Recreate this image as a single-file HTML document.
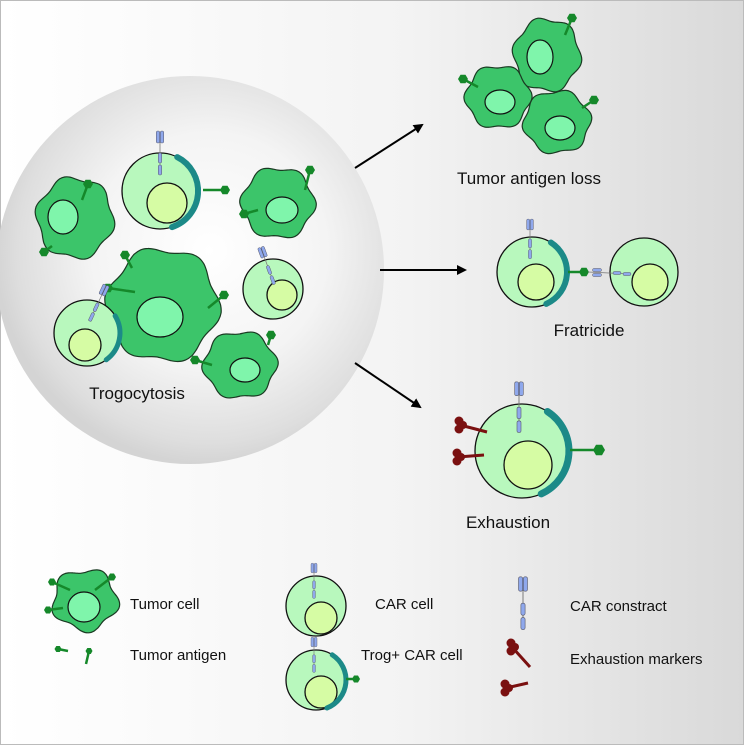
<!DOCTYPE html>
<html><head><meta charset="utf-8"><style>
html,body{margin:0;padding:0;}
body{width:744px;height:745px;overflow:hidden;font-family:"Liberation Sans",Arial,sans-serif;}
svg text{font-family:"Liberation Sans",Arial,sans-serif;fill:#111;}
</style></head><body>
<svg id="s" width="744" height="745" viewBox="0 0 744 745" xmlns="http://www.w3.org/2000/svg">
<defs>
<linearGradient id="bg" x1="0" y1="0" x2="1" y2="0">
<stop offset="0" stop-color="#ffffff"/><stop offset="0.55" stop-color="#f3f3f3"/><stop offset="1" stop-color="#d9d9d9"/>
</linearGradient>
<radialGradient id="big" cx="0.55" cy="0.45" r="0.55">
<stop offset="0" stop-color="#ffffff"/><stop offset="0.55" stop-color="#f4f4f4"/><stop offset="0.9" stop-color="#dedede"/><stop offset="1" stop-color="#d4d4d4"/>
</radialGradient>
<marker id="ar" markerWidth="10" markerHeight="10" refX="8" refY="5" orient="auto" markerUnits="userSpaceOnUse">
<path d="M0,0 L10,5 L0,10 z" fill="#000"/></marker>
</defs>
<rect x="0.5" y="0.5" width="743" height="744" fill="url(#bg)" stroke="#bbb"/>
<circle cx="190" cy="270" r="194" fill="url(#big)"/>
<g id="g"></g>
<line x1="355" y1="168" x2="422" y2="125" stroke="#000" stroke-width="2" marker-end="url(#ar)"/>
<line x1="380" y1="270" x2="465" y2="270" stroke="#000" stroke-width="2" marker-end="url(#ar)"/>
<line x1="355" y1="363" x2="420" y2="407" stroke="#000" stroke-width="2" marker-end="url(#ar)"/>
<text x="137" y="399" font-size="17" text-anchor="middle">Trogocytosis</text>
<text x="529" y="184" font-size="17" text-anchor="middle">Tumor antigen loss</text>
<text x="589" y="336" font-size="17" text-anchor="middle">Fratricide</text>
<text x="508" y="528" font-size="17" text-anchor="middle">Exhaustion</text>
<text x="130" y="609" font-size="15">Tumor cell</text>
<text x="375" y="609" font-size="15">CAR cell</text>
<text x="570" y="611" font-size="15">CAR constract</text>
<text x="130" y="660" font-size="15">Tumor antigen</text>
<text x="361" y="660" font-size="15">Trog+ CAR cell</text>
<text x="570" y="664" font-size="15">Exhaustion markers</text>
</svg>
<script>
var G=document.getElementById('g'),h='';
var TUM='#3cc56a',TN='#7ff5ab',CAR='#b8f8bd',CN='#d6fca4',TEAL='#1c8a88',AG='#15882a',RC='#8fa8ec',EX='#7a1010';
function blob(cx,cy,rx,ry,k,ph,amp){var n=48,p=[];for(var i=0;i<n;i++){var t=i/n*2*Math.PI;var r=1+amp*Math.sin(k*t+ph);p.push([cx+rx*r*Math.cos(t),cy+ry*r*Math.sin(t)]);}
var d='M'+p[0][0].toFixed(1)+','+p[0][1].toFixed(1);for(var i=0;i<n;i++){var p0=p[(i-1+n)%n],p1=p[i],p2=p[(i+1)%n],p3=p[(i+2)%n];
d+=' C'+(p1[0]+(p2[0]-p0[0])/6).toFixed(1)+','+(p1[1]+(p2[1]-p0[1])/6).toFixed(1)+' '+(p2[0]-(p3[0]-p1[0])/6).toFixed(1)+','+(p2[1]-(p3[1]-p1[1])/6).toFixed(1)+' '+p2[0].toFixed(1)+','+p2[1].toFixed(1);}
return '<path d="'+d+'Z" fill="'+TUM+'" stroke="#1a3a22" stroke-width="1.2"/>';}
function hex(x,y,r){var s='';for(var i=0;i<6;i++){var a=i*Math.PI/3;s+=(x+r*Math.cos(a)).toFixed(1)+','+(y+r*Math.sin(a)).toFixed(1)+' ';}return '<polygon points="'+s+'" fill="'+AG+'"/>';}
function ag(x1,y1,x2,y2,r){return '<line x1="'+x1+'" y1="'+y1+'" x2="'+x2+'" y2="'+y2+'" stroke="'+AG+'" stroke-width="2.5"/>'+hex(x2,y2,r||5);}
function tumor(cx,cy,rx,ry,nx,ny,nrx,nry,ph){return blob(cx,cy,rx,ry,6,ph,0.065)+'<ellipse cx="'+nx+'" cy="'+ny+'" rx="'+nrx+'" ry="'+nry+'" fill="'+TN+'" stroke="#111" stroke-width="1.2"/>';}
function rect(x,y,w,hh,a){return '<rect x="'+(x-w/2)+'" y="'+(y-hh/2)+'" width="'+w+'" height="'+hh+'" rx="1.5" fill="'+RC+'" stroke="#556" stroke-width="0.5" transform="rotate('+(a||0)+' '+x+' '+y+')"/>';}
function rec(x,y,s,a){s=s||1;a=a||0;var o='<g transform="translate('+x+','+y+') rotate('+a+') scale('+s+')">';
o+='<line x1="0" y1="0" x2="0" y2="42" stroke="#777" stroke-width="0.8"/>';o+=rect(-2,5,3.5,12)+rect(2,5,3.5,12)+rect(0,26,3.5,10)+rect(0,38,3.5,10);return o+'</g>';}
function car(cx,cy,r,nx,ny,nr){return '<circle cx="'+cx+'" cy="'+cy+'" r="'+r+'" fill="'+CAR+'" stroke="#111" stroke-width="1.3"/><circle cx="'+nx+'" cy="'+ny+'" r="'+nr+'" fill="'+CN+'" stroke="#111" stroke-width="1.3"/>';}
function teal(cx,cy,r,a1,a2,w){var p1=[cx+r*Math.cos(a1),cy+r*Math.sin(a1)],p2=[cx+r*Math.cos(a2),cy+r*Math.sin(a2)];
return '<path d="M'+p1[0].toFixed(1)+','+p1[1].toFixed(1)+' A'+r+','+r+' 0 0 1 '+p2[0].toFixed(1)+','+p2[1].toFixed(1)+'" fill="none" stroke="'+TEAL+'" stroke-width="'+w+'" stroke-linecap="round"/>';}
function exm(x1,y1,x2,y2){var o='<line x1="'+x1+'" y1="'+y1+'" x2="'+x2+'" y2="'+y2+'" stroke="'+EX+'" stroke-width="3"/>';
o+='<circle cx="'+(x2-1)+'" cy="'+(y2-4)+'" r="4.5" fill="'+EX+'"/><circle cx="'+(x2-1)+'" cy="'+(y2+4)+'" r="4.5" fill="'+EX+'"/><circle cx="'+(x2+3)+'" cy="'+y2+'" r="4" fill="'+EX+'"/>';return o;}
h+=tumor(75,218,38,40,63,217,15,17,0.3)+ag(82,200,88,184)+ag(52,246,44,252);
h+=tumor(278,203,36,35,282,210,16,13,1.2)+ag(305,190,310,170)+ag(258,210,244,214);
h+=tumor(163,305,55,56,160,317,23,20,0.8)+ag(135,292,108,288,5)+ag(132,268,125,255)+ag(208,308,224,295);
h+=tumor(240,365,36,33,245,370,15,12,2.1)+ag(268,345,271,335)+ag(212,365,195,360);
h+=car(160,191,38,167,203,20)+teal(160,191,38,-1.1,1.25,6)+ag(203,190,225,190)+rec(160,132,1);
h+=car(87,333,33,85,345,16)+teal(87,333,33,-0.55,0.95,5)+rec(106,286,0.9,25);
h+=car(273,289,30,282,295,15)+rec(261,248,0.9,-20);
h+=tumor(547,55,33,36,540,57,13,17,0.5)+ag(565,35,572,18);
h+=tumor(498,97,32,31,500,102,15,12,1.7)+ag(478,87,463,79);
h+=tumor(557,122,33,31,560,128,15,12,2.6)+ag(582,108,594,100);
h+=car(532,272,35,536,282,18)+teal(532,272,35,-1.0,1.15,6)+rec(530,220,0.9)+ag(568,272,584,272);
h+=car(644,272,34,650,282,18)+'<line x1="588" y1="272" x2="630" y2="274" stroke="#777" stroke-width="0.8"/>'+rect(597,270,9,3)+rect(597,275,9,3)+rect(617,273,8,3)+rect(627,274,8,3);
h+=car(522,451,47,528,465,24)+teal(522,451,47,-1.0,1.15,7)+rec(519,383,1.15)+ag(570,450,599,450,6);
h+=exm(487,432,460,425)+exm(484,455,458,457);
h+=blob(85,600,32,30,5,0.6,0.1)+'<ellipse cx="84" cy="607" rx="16" ry="15" fill="'+TN+'" stroke="#111" stroke-width="1.2"/>'+ag(70,590,52,582,4)+ag(95,590,112,577,4)+ag(63,608,48,610,4);
h+=car(316,606,30,321,618,16)+rec(314,564,0.8);
h+=car(316,680,30,321,692,16)+teal(316,680,30,-1.0,1.2,5)+rec(314,638,0.8)+ag(346,679,356,679,4);
h+=rec(523,578,1.2);
h+=ag(68,651,58,649,3.5)+ag(86,664,89,651,3.5);
h+=exm(530,667,512,647)+exm(528,683,506,688);
G.innerHTML=h;
</script>
</body></html>
